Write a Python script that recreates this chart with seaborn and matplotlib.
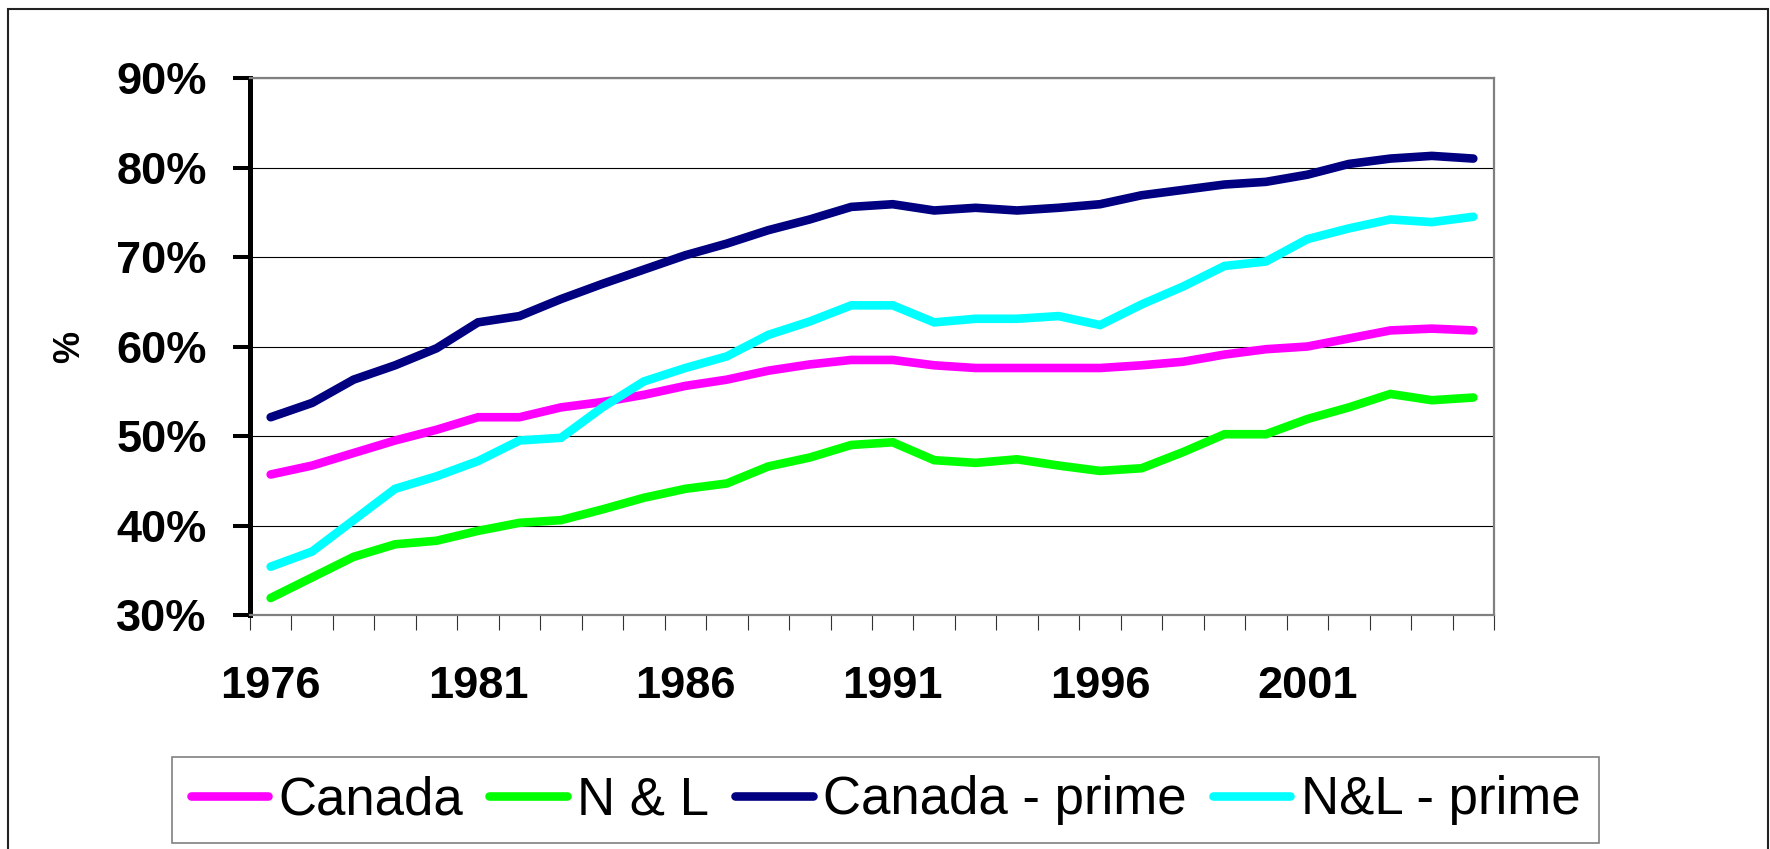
import numpy as np
import pandas as pd
import matplotlib
matplotlib.use("Agg")
import matplotlib.pyplot as plt
from matplotlib.patches import Rectangle
from matplotlib.ticker import PercentFormatter
import seaborn as sns

# Participation rates by year (in %)
years = list(range(1976, 2006))
canada = [45.7, 46.7, 48.1, 49.5, 50.7, 52.1, 52.1, 53.2, 53.8, 54.6,
          55.6, 56.3, 57.3, 58.0, 58.5, 58.5, 57.9, 57.6, 57.6, 57.6,
          57.6, 57.9, 58.3, 59.1, 59.7, 60.0, 60.9, 61.8, 62.0, 61.8]
nl = [31.9, 34.2, 36.5, 37.9, 38.3, 39.4, 40.3, 40.6, 41.8, 43.1,
      44.1, 44.7, 46.6, 47.6, 49.0, 49.3, 47.3, 47.0, 47.4, 46.7,
      46.1, 46.4, 48.2, 50.2, 50.2, 51.9, 53.2, 54.7, 54.0, 54.3]
canada_prime = [52.1, 53.7, 56.3, 57.9, 59.8, 62.7, 63.4, 65.3, 67.0, 68.6,
                70.2, 71.5, 73.0, 74.2, 75.6, 75.9, 75.2, 75.5, 75.2, 75.5,
                75.9, 76.9, 77.5, 78.1, 78.4, 79.2, 80.4, 81.0, 81.3, 81.0]
nl_prime = [35.4, 37.1, 40.6, 44.1, 45.5, 47.2, 49.5, 49.8, 53.2, 56.1,
            57.6, 58.9, 61.3, 62.8, 64.6, 64.6, 62.7, 63.1, 63.1, 63.4,
            62.4, 64.7, 66.7, 69.0, 69.5, 72.0, 73.2, 74.2, 73.9, 74.5]

series_names = ["Canada", "N & L", "Canada - prime", "N&L - prime"]
series_colors = ["#FF00FF", "#00FF00", "#000080", "#00FFFF"]
LW = 6.2

frames = []
for name, vals in zip(series_names, [canada, nl, canada_prime, nl_prime]):
    frames.append(pd.DataFrame({"idx": np.arange(len(years)), "value": vals, "series": name}))
df = pd.concat(frames, ignore_index=True)

sns.set_theme(style="white")
plt.rcParams["font.family"] = ["Liberation Sans", "DejaVu Sans"]
for key in ["text.color", "axes.labelcolor", "xtick.color", "ytick.color"]:
    plt.rcParams[key] = "black"

fig = plt.figure(figsize=(17.7, 8.49), dpi=100)
ax = fig.add_axes([0.1412, 0.2756, 0.8441 - 0.1412, 0.9081 - 0.2756])

sns.lineplot(data=df, x="idx", y="value", hue="series", hue_order=series_names,
             palette=dict(zip(series_names, series_colors)), linewidth=LW,
             ax=ax, solid_capstyle="round", solid_joinstyle="miter")
for line in ax.get_lines():
    line.set_linewidth(LW)

ax.set_xlim(-0.5, len(years) - 0.5)
ax.set_ylim(30, 90)
ax.set_yticks(np.arange(30, 91, 10))
ax.yaxis.set_major_formatter(PercentFormatter(decimals=0))
ax.set_xticks(np.arange(0, len(years), 5))
ax.set_xticklabels([str(y) for y in years[::5]])
ax.set_xticks(np.arange(-0.5, len(years), 1), minor=True)

ax.tick_params(axis="y", which="major", direction="out", length=12, width=2.9,
               color="black", pad=19, labelsize=32.5, left=True)
ax.tick_params(axis="x", which="major", length=0, pad=37, labelsize=32.5, bottom=True)
ax.tick_params(axis="x", which="minor", direction="out", length=10.8, width=0.8,
               color="#333333", bottom=True)
for lab in ax.get_xticklabels() + ax.get_yticklabels():
    lab.set_fontweight("bold")

ax.grid(axis="y", color="black", linewidth=0.8)
ax.grid(axis="x", visible=False)
ax.set_axisbelow(True)

ax.spines["left"].set_color("black")
ax.spines["left"].set_linewidth(3.6)
for side in ["top", "right", "bottom"]:
    ax.spines[side].set_color("#808080")
    ax.spines[side].set_linewidth(1.6)

ax.set_xlabel("")
ax.set_ylabel("%", fontsize=26, fontweight="bold", labelpad=21)

handles, labels = ax.get_legend_handles_labels()
ax.get_legend().remove()
leg = fig.legend(handles, labels, loc="center", bbox_to_anchor=(0.5003, 0.0577),
                 bbox_transform=fig.transFigure, ncol=4, fontsize=38, frameon=True,
                 fancybox=False, edgecolor="#606060", handlelength=1.46,
                 handletextpad=0.2, columnspacing=0.5, borderpad=0.35,
                 borderaxespad=0)
leg.get_frame().set_linewidth(1.2)
for line in leg.get_lines():
    line.set_linewidth(LW)

# outer chart border (bottom edge falls outside the picture)
fig.patches.append(Rectangle((8 / 1770, -0.05), 1760 / 1770, 1 - 9 / 849 + 0.05,
                             transform=fig.transFigure, fill=False,
                             edgecolor="#222222", linewidth=1.5))

fig.savefig("out.png", dpi=100)
